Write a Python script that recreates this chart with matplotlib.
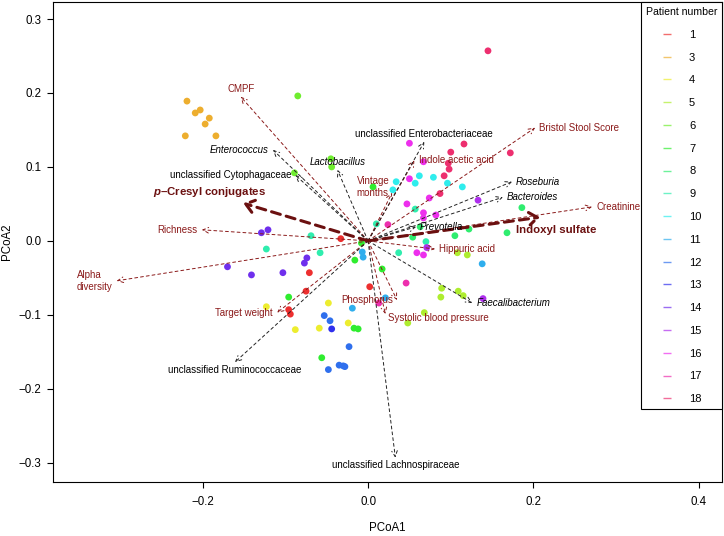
import colorsys
import matplotlib.pyplot as plt
from matplotlib.lines import Line2D

plt.rcParams['font.family'] = ['Liberation Sans', 'DejaVu Sans']
plt.rcParams['mathtext.fontset'] = 'custom'
plt.rcParams['mathtext.it'] = 'Liberation Sans:italic:bold'

# sample scores (PCoA1, PCoA2) and patient id
pc1 = [-0.219, -0.209, -0.203, -0.192, -0.197, -0.221, -0.184,
       -0.033, -0.071, -0.075, 0.002,
       -0.096, -0.094,
       -0.123, -0.048, -0.088, -0.059, -0.024,
       0.089, 0.109, 0.115, 0.088, 0.068, 0.048, 0.108, 0.120,
       -0.085, -0.045, -0.044, -0.089,
       0.006, -0.016, 0.017, -0.096, -0.017, -0.012, -0.056, -0.008,
       0.054, 0.105, 0.122, 0.168, 0.186, 0.063,
       -0.069, -0.123, -0.058, 0.010, 0.037, 0.057, 0.070,
       0.034, 0.030, 0.062, 0.079, 0.096, 0.114, 0.057,
       -0.007, -0.006, 0.138, 0.021, -0.019,
       -0.053, -0.046, -0.023, -0.048, -0.035, -0.030, -0.028,
       -0.044,
       -0.129, -0.121, -0.074, -0.077, -0.170, -0.141, -0.103,
       0.133, 0.071, 0.139,
       0.050, 0.067, 0.050, 0.074, 0.047, 0.067, 0.082, 0.067, 0.024,
       0.059, 0.067, 0.046, 0.013,
       0.116, 0.100, 0.097, 0.098, 0.092, 0.087, 0.172, 0.145]
pc2 = [0.189, 0.173, 0.177, 0.166, 0.158, 0.142, 0.142,
       0.003, -0.043, -0.068, -0.062,
       -0.093, -0.099,
       -0.089, -0.084, -0.120, -0.118, -0.111,
       -0.064, -0.068, -0.074, -0.076, -0.097, -0.111, -0.016, -0.019,
       0.196, 0.111, 0.100, 0.092,
       0.073, -0.026, -0.038, -0.076, -0.118, -0.119, -0.158, -0.003,
       0.005, 0.007, 0.016, 0.011, 0.045, 0.019,
       0.007, -0.011, -0.016, 0.023, -0.016, 0.043, -0.001,
       0.080, 0.069, 0.088, 0.086, 0.078, 0.073, 0.078,
       -0.015, -0.022, -0.031, -0.077, -0.091,
       -0.101, -0.108, -0.143, -0.174, -0.168, -0.169, -0.170,
       -0.119,
       0.011, 0.015, -0.023, -0.030, -0.035, -0.046, -0.043,
       0.055, -0.009, -0.078,
       0.132, 0.107, 0.084, 0.058, 0.050, 0.038, 0.035, 0.031, 0.022,
       -0.016, -0.019, -0.057, -0.084,
       0.131, 0.120, 0.105, 0.097, 0.088, 0.064, 0.119, 0.257]
patient = ([3] * 7 + [1] * 6 + [4] * 5 + [5] * 8 + [6] * 4 + [7] * 8
           + [8] * 6 + [9] * 7 + [10] * 7 + [11] * 5 + [12] * 7 + [13] + [14] * 7
           + [15] * 3 + [16] * 8 + [17] + [16] * 2 + [17] * 2 + [18] * 8)
patient_ids = [1, 3, 4, 5, 6, 7, 8, 9, 10, 11, 12, 13, 14, 15, 16, 17, 18]

# clinical / metabolite vectors
env_names = ['CMPF', 'Richness', 'Alpha\ndiversity', 'Bristol Stool Score',
             'Indole acetic acid', 'Vintage\nmonths', 'Hippuric acid', 'Creatinine',
             'Phosphorus', 'Systolic blood pressure', 'Target weight']
env_x = [-0.154, -0.201, -0.304, 0.202, 0.056, 0.029, 0.081, 0.271, 0.035, 0.021, -0.110]
env_y = [0.195, 0.015, -0.054, 0.153, 0.109, 0.065, -0.011, 0.046, -0.080, -0.099, -0.097]

# uremic toxins (highlighted)
tox_names = ['$\\mathit{p}$\u2013Cresyl conjugates', 'Indoxyl sulfate']
tox_x = [-0.151, 0.208]
tox_y = [0.051, 0.032]

# taxa vectors
taxa_names = ['Enterococcus', 'unclassified Cytophagaceae', 'Lactobacillus',
              'unclassified Enterobacteriaceae', 'Roseburia', 'Bacteroides',
              'Prevotella', 'Faecalibacterium', 'unclassified Ruminococcaceae',
              'unclassified Lachnospiraceae']
taxa_x = [-0.115, -0.088, -0.037, 0.068, 0.174, 0.163, 0.058, 0.126, -0.161, 0.033]
taxa_y = [0.123, 0.089, 0.096, 0.134, 0.080, 0.059, 0.019, -0.084, -0.164, -0.293]
taxa_italic = [True, False, True, False, True, True, True, True, False, False]

# label side: 1 below, 2 left, 3 above, 4 right (like R's pos)
env_pos = [3, 2, 2, 4, 4, 2, 4, 4, 2, 4, 2]
taxa_pos = [2, 2, 3, 3, 4, 4, 4, 4, 1, 1]

def pcol(p):
    # rainbow(18) indexed by patient number
    r, g, b = colorsys.hsv_to_rgb((p - 1) / 18.0, 0.8, 0.93)
    return (r, g, b)

def place(pos):
    return {1: ((0, -2), 'center', 'top'),
            2: ((-3, 0), 'right', 'center'),
            3: ((0, 2), 'center', 'bottom'),
            4: ((3, 0), 'left', 'center')}[pos]

dark_red = '#8b1a1a'
thin_ls = (0, (3, 3))

fig = plt.figure(figsize=(7.24, 5.36), dpi=100)
ax = fig.add_axes([53 / 724, 54 / 536, 669 / 724, 480 / 536])

ax.scatter(pc1, pc2, c=[pcol(p) for p in patient], s=24, linewidths=0, zorder=2)

for name, x, y, pos in zip(env_names, env_x, env_y, env_pos):
    ax.annotate('', xy=(x, y), xytext=(0, 0),
                arrowprops=dict(arrowstyle='->,head_length=0.4,head_width=0.2',
                                color=dark_red, lw=0.7, linestyle=thin_ls,
                                shrinkA=0, shrinkB=0), zorder=3)
    off, ha, va = place(pos)
    if name.startswith('Vintage'):
        off = (-2, 4)
    if name.startswith('Systolic'):
        off = (2, -3)
    ax.annotate(name, xy=(x, y), xytext=off, textcoords='offset points',
                ha=ha, va=va, multialignment='left', fontsize=7,
                color=dark_red, zorder=4)

for name, x, y, pos, it in zip(taxa_names, taxa_x, taxa_y, taxa_pos, taxa_italic):
    ax.annotate('', xy=(x, y), xytext=(0, 0),
                arrowprops=dict(arrowstyle='->,head_length=0.4,head_width=0.2',
                                color='#222222', lw=0.7, linestyle=thin_ls,
                                shrinkA=0, shrinkB=0), zorder=3)
    off, ha, va = place(pos)
    ax.annotate(name, xy=(x, y), xytext=off, textcoords='offset points',
                ha=ha, va=va, fontsize=7, color='black',
                fontstyle='italic' if it else 'normal', zorder=4)

tox_off = [(-24, 8), (11.5, -9.5)]
for name, x, y, off in zip(tox_names, tox_x, tox_y, tox_off):
    ax.annotate('', xy=(x, y), xytext=(0, 0),
                arrowprops=dict(arrowstyle='->,head_length=0.6,head_width=0.45',
                                color='#6b1010', lw=2.2, linestyle=(0, (3, 2)),
                                shrinkA=0, shrinkB=0), zorder=3)
    ax.annotate(name, xy=(x, y), xytext=off, textcoords='offset points',
                ha='center', va='center', fontsize=8.2, fontweight='bold',
                color='#6b1010', zorder=4)

ax.set_xlim(-0.381, 0.428)
ax.set_ylim(-0.326, 0.323)
ax.set_xticks([-0.2, 0.0, 0.2, 0.4])
ax.set_xticklabels(['\u22120.2', '0.0', '0.2', '0.4'])
ax.set_yticks([-0.3, -0.2, -0.1, 0.0, 0.1, 0.2, 0.3])
ax.set_yticklabels(['\u22120.3', '\u22120.2', '\u22120.1', '0.0', '0.1', '0.2', '0.3'])
ax.tick_params(direction='out', length=4.3, width=0.8, labelsize=8.3, pad=4)
ax.tick_params(axis='x', pad=6)
for sp in ax.spines.values():
    sp.set_linewidth(0.8)
ax.set_xlabel('PCoA1', fontsize=8.3, labelpad=10)
ax.set_ylabel('PCoA2', fontsize=8.3, labelpad=4)

handles = [Line2D([], [], ls='none', marker='_', markersize=6, markeredgewidth=1,
                  color=pcol(p), alpha=0.7) for p in patient_ids]
leg = ax.legend(handles, [str(p) for p in patient_ids], title='Patient number',
                loc='upper right', bbox_to_anchor=(1, 1), borderaxespad=0,
                fontsize=8, title_fontsize=7.6, fancybox=False, edgecolor='black',
                framealpha=1, borderpad=0.45, handlelength=1.08, handletextpad=1.45,
                labelspacing=1.15, numpoints=1)
leg.get_frame().set_linewidth(0.8)

fig.savefig('out.png', dpi=100)
